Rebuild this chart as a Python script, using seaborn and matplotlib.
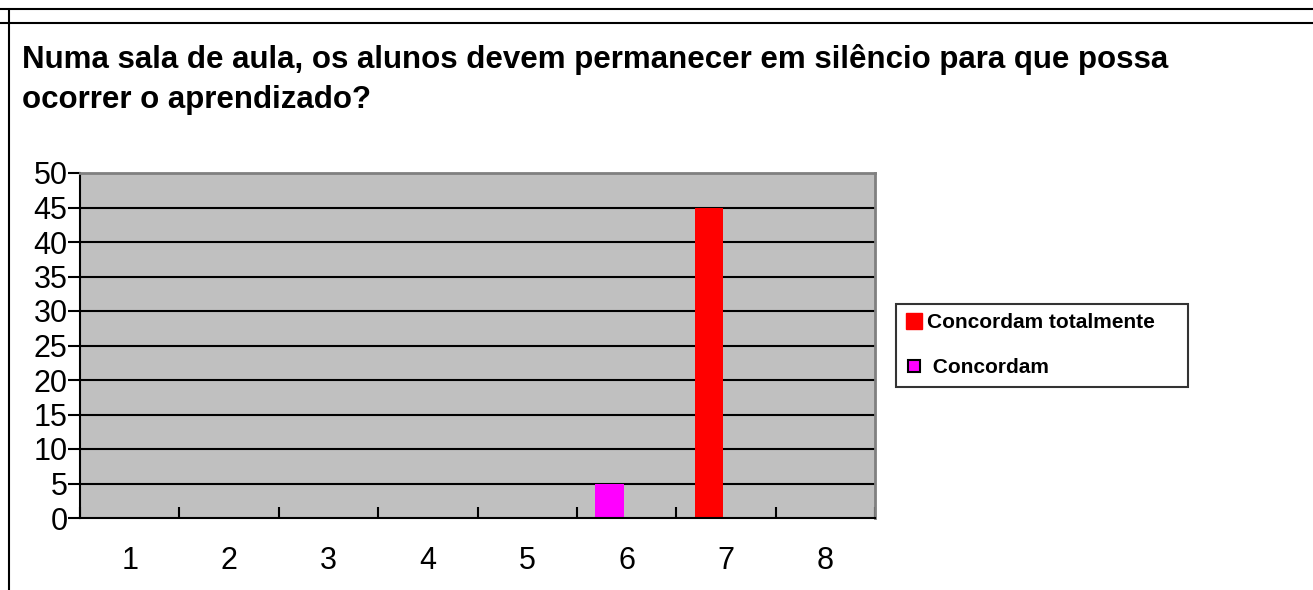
import matplotlib
matplotlib.use("Agg")
import matplotlib.pyplot as plt
import seaborn as sns
import pandas as pd
import numpy as np
from matplotlib.lines import Line2D

# ---- data ----
categories = ["1", "2", "3", "4", "5", "6", "7", "8"]
concordam_totalmente = [0, 0, 0, 0, 0, 0, 45, 0]
concordam = [0, 0, 0, 0, 0, 5, 0, 0]
series_names = ["Concordam totalmente", "Concordam"]
legend_labels = ["Concordam totalmente", " Concordam"]
series_colors = ["#FF0000", "#FF00FF"]
y_ticks = [0, 5, 10, 15, 20, 25, 30, 35, 40, 45, 50]
title = "Numa sala de aula, os alunos devem permanecer em silêncio para que possa\nocorrer o aprendizado?"

df = pd.DataFrame({
    "cat": categories * 2,
    "value": concordam_totalmente + concordam,
    "serie": [series_names[0]] * len(categories) + [series_names[1]] * len(categories),
})

sns.set_theme(style="white")
plt.rcParams["font.family"] = ["Liberation Sans", "DejaVu Sans"]
plt.rcParams["text.color"] = "black"
plt.rcParams["xtick.color"] = "black"
plt.rcParams["ytick.color"] = "black"
plt.rcParams["xtick.labelcolor"] = "black"
plt.rcParams["ytick.labelcolor"] = "black"

W, H = 1313, 590
fig = plt.figure(figsize=(W / 100, H / 100), dpi=100)
ax = fig.add_axes([80 / W, 1 - 518 / H, (875 - 80) / W, (518 - 173) / H])
ax.set_facecolor("#C0C0C0")

sns.barplot(data=df, x="cat", y="value", hue="serie", hue_order=series_names,
            palette=dict(zip(series_names, series_colors)), dodge=False,
            width=0.29, order=categories, ax=ax, saturation=1, legend=False,
            linewidth=0, zorder=3)

n = len(categories)
ax.set_xlim(-0.33, n - 0.33)
ax.set_ylim(0, 50)
ax.set_yticks(y_ticks)
ax.set_xticks(np.arange(n) + 0.17)
ax.set_xticklabels(categories)
ax.set_xticks(np.arange(n + 1) - 0.33, minor=True)
ax.tick_params(axis="x", which="major", length=0, pad=20, labelsize=22)
ax.tick_params(axis="x", which="minor", direction="in", length=8, width=1.5,
               color="black", bottom=True)
ax.tick_params(axis="y", which="major", direction="out", length=9, width=1.5,
               color="black", left=True, pad=0, labelsize=22)
ax.set_xlabel("")
ax.set_ylabel("")
for y in y_ticks[1:-1]:
    ax.axhline(y, color="black", lw=1.5, zorder=2)
ax.grid(False)
for side in ["left", "bottom"]:
    ax.spines[side].set_color("black")
    ax.spines[side].set_linewidth(1.5)
for side in ["top", "right"]:
    ax.spines[side].set_color("#808080")
    ax.spines[side].set_linewidth(2)
ax.spines["bottom"].set_zorder(4)

# title
fig.text(22 / W, 1 - 44 / H, title, ha="left", va="top", fontsize=22.5,
         fontweight="bold", linespacing=1.45, color="black")

# legend
handles = [
    Line2D([], [], linestyle="none", marker="s", markersize=11.5,
           markerfacecolor=series_colors[0], markeredgecolor=series_colors[0]),
    Line2D([], [], linestyle="none", marker="s", markersize=8.5,
           markerfacecolor=series_colors[1], markeredgecolor="black", markeredgewidth=1.5),
]
leg = fig.legend(handles, legend_labels, loc="upper left",
                 bbox_to_anchor=(896 / W, 1 - 386 / H, 292 / W, 82 / H), mode="expand",
                 frameon=True, fancybox=False, edgecolor="black",
                 prop={"weight": "bold", "size": 15},
                 handlelength=0.8, handletextpad=0.25,
                 labelspacing=1.25, borderpad=0.45, borderaxespad=0)
leg.get_frame().set_linewidth(1.5)
for t in leg.get_texts():
    t.set_color("black")

# figure decoration lines
fig.add_artist(Line2D([0, 1], [1 - 9 / H, 1 - 9 / H], color="black", lw=1.5, transform=fig.transFigure))
fig.add_artist(Line2D([0, 1], [1 - 23 / H, 1 - 23 / H], color="black", lw=1.5, transform=fig.transFigure))
fig.add_artist(Line2D([9 / W, 9 / W], [0, 1 - 9 / H], color="black", lw=1.5, transform=fig.transFigure))

fig.savefig("out.png", dpi=100, facecolor="white")
